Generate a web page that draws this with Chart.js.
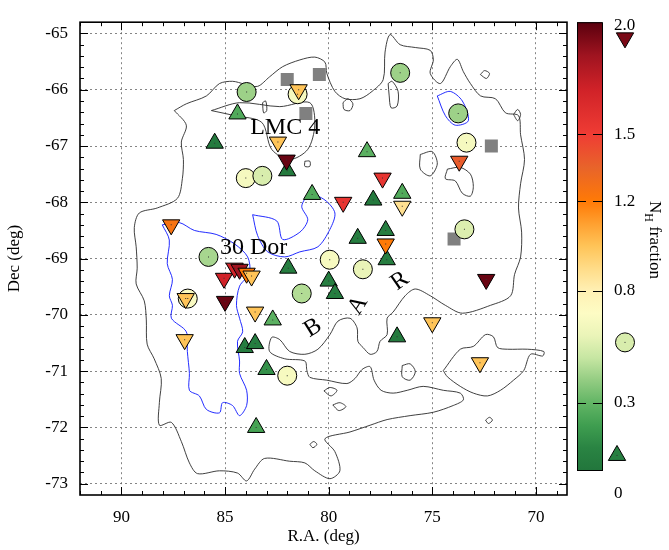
<!DOCTYPE html>
<html>
<head>
<meta charset="utf-8">
<script src="https://cdn.jsdelivr.net/npm/chart.js@4.4.0/dist/chart.umd.min.js"></script>
<style>
	html, body { margin: 0; padding: 0; background: #fff; }
</style>
</head>
<body>
<canvas id="lmcMap" width="669" height="550" style="width:669px;height:550px"></canvas>
<script>
// axis ticks
const xTicks = [90, 85, 80, 75, 70];
const yTicks = [-65, -66, -67, -68, -69, -70, -71, -72, -73];
const cbTicks = [0, 0.3, 0.8, 1.2, 1.5, 2.0];
const cbTickLabels = ["0", "0.3", "0.8", "1.2", "1.5", "2.0"];

// colour map for N_H fraction
const cmapVals = [0, 0.1, 0.2, 0.3, 0.4, 0.5, 0.6, 0.7, 0.8, 0.9, 1.0, 1.1, 1.2, 1.35, 1.5, 1.7, 1.85, 2.0];
const cmapCols = ["#22763c", "#2a8443", "#3f9e50", "#62b565", "#93cc82", "#c6e6a2", "#eaf4b8", "#fdfcc4",
	"#fff0b4", "#ffdc88", "#ffc458", "#ffa030", "#ff7a06", "#e8642a", "#ef3c34", "#d02228", "#a01420", "#5a000e"];

// sources: upward triangles
const upRa = [84.4, 85.5, 82.0, 80.8, 78.15, 77.85, 76.45, 78.6, 77.25, 77.2, 81.95, 80.0, 79.7, 82.7, 84.05, 83.55, 83.0, 83.5, 76.7];
const upDec = [-66.43, -66.95, -67.44, -67.86, -67.1, -67.96, -67.84, -68.64, -68.5, -69.02, -69.17, -69.4, -69.62, -70.09, -70.58, -70.51, -70.97, -72.0, -70.39];
const upFrac = [0.25, 0.03, 0.03, 0.25, 0.28, 0.03, 0.25, 0.05, 0.05, 0.05, 0.05, 0.05, 0.05, 0.28, 0.05, 0.05, 0.15, 0.22, 0.03];

// sources: downward triangles
const downRa = [81.45, 82.45, 82.03, 79.3, 77.4, 73.7, 76.45, 77.25, 87.6, 72.4, 85.05, 84.54, 84.3, 83.96, 83.72, 85.0, 86.9, 83.55, 86.95, 75.0, 72.7];
const downDec = [-66.0, -66.93, -67.25, -68.0, -67.57, -67.27, -68.07, -68.74, -68.4, -69.37, -69.35, -69.17, -69.19, -69.26, -69.31, -69.76, -69.71, -69.95, -70.44, -70.14, -70.85];
const downFrac = [1.0, 1.0, 1.97, 1.55, 1.55, 1.38, 0.88, 1.2, 1.25, 1.97, 1.7, 1.7, 1.85, 1.2, 1.0, 1.97, 1.0, 1.0, 1.0, 1.0, 1.0];

// sources: circles
const circRa = [83.96, 81.5, 84.0, 83.2, 76.55, 73.75, 73.35, 73.45, 85.8, 86.8, 81.3, 79.95, 78.35, 82.0];
const circDec = [-66.04, -66.08, -67.57, -67.53, -65.7, -66.42, -66.94, -68.48, -68.97, -69.71, -69.62, -69.02, -69.19, -71.08];
const circFrac = [0.42, 0.66, 0.66, 0.55, 0.42, 0.42, 0.66, 0.56, 0.44, 0.68, 0.46, 0.67, 0.6, 0.67];

// sources: grey squares
const sqRa = [82.0, 80.45, 81.1, 72.15, 73.95];
const sqDec = [-65.82, -65.73, -66.42, -67.0, -68.65];

// contours [ra, dec]
const outerContour = [[87.45,-66.37],[86.87,-66.25],[85.90,-66.11],[85.27,-65.89],[84.64,-65.85],[84.06,-65.90],[83.43,-65.94],
	[82.85,-65.77],[82.22,-65.59],[81.39,-65.47],[80.67,-65.42],[80.18,-65.51],[80.09,-65.71],[79.70,-66.03],[79.21,-66.16],
	[78.49,-66.16],[77.91,-66.03],[77.37,-65.82],[77.28,-65.33],[77.04,-65.02],[76.55,-65.20],[75.82,-65.25],[75.10,-65.30],
	[74.95,-65.47],[75.10,-65.71],[74.61,-65.89],[74.13,-65.59],[73.79,-65.46],[73.50,-65.68],[73.16,-65.89],[72.67,-66.11],
	[71.95,-66.16],[71.47,-66.41],[70.84,-66.46],[70.74,-66.80],[70.55,-67.24],[70.74,-67.67],[70.84,-68.10],[70.69,-68.53],
	[70.74,-68.97],[71.03,-69.28],[71.22,-69.66],[72.19,-69.83],[73.55,-69.97],[74.37,-69.83],[75.10,-69.66],[75.82,-69.54],
	[76.31,-69.66],[76.89,-69.95],[77.18,-70.06],[77.18,-70.35],[77.52,-70.47],[77.67,-70.65],[78.00,-70.70],[78.34,-70.58],
	[78.59,-70.47],[78.63,-70.23],[78.97,-70.06],[79.55,-70.11],[79.94,-70.35],[80.52,-70.61],[81.15,-70.70],[81.88,-70.65],
	[82.36,-70.44],[82.75,-70.40],[82.85,-70.65],[82.12,-70.78],[81.15,-70.82],[81.05,-70.99],[80.91,-71.11],[80.09,-71.16],
	[79.12,-71.22],[78.73,-71.13],[78.39,-70.97],[78.00,-70.92],[77.81,-71.16],[77.47,-71.34],[76.89,-71.39],[76.21,-71.34],
	[75.44,-71.27],[74.47,-71.34],[73.65,-71.39],[73.50,-71.51],[73.99,-71.61],[74.95,-71.73],[76.07,-71.79],[77.18,-71.86],
	[78.00,-71.96],[78.97,-72.08],[80.18,-72.20],
	[79.70,-72.43],[79.46,-72.77],[79.94,-72.91],[80.67,-72.77],[81.15,-72.63],[81.88,-72.60],[83.09,-72.55],[83.57,-72.74],
	[83.96,-72.95],[84.40,-72.81],[85.27,-72.77],[86.33,-72.82],[86.72,-72.63],[87.11,-72.25],[87.59,-71.91],[88.17,-71.96],
	[88.17,-71.56],[88.08,-71.13],[88.42,-70.78],[88.76,-70.52],[88.80,-70.09],[88.90,-69.75],[89.29,-69.45],[89.24,-69.17],
	[89.29,-68.79],[89.38,-68.45],[89.14,-68.19],[88.27,-68.10],[87.30,-67.93],[87.06,-67.58],[87.01,-67.24],[87.11,-66.93],
	[86.87,-66.63],[87.45,-66.37]];
const lmc4Hole = [[85.66,-66.37],[84.30,-66.23],[82.36,-66.30],[80.91,-66.23],[80.67,-66.63],[81.01,-67.06],[81.88,-67.24],
	[82.75,-67.06],[83.23,-66.58],[84.54,-66.46],[85.66,-66.37]];
const seIsland = [[74.47,-70.99],[73.65,-70.61],[73.02,-70.56],[72.43,-70.35],[72.05,-70.39],[71.85,-70.58],[71.37,-70.61],
	[70.40,-70.61],[69.62,-70.65],[69.67,-70.73],[70.26,-70.70],[70.59,-70.99],[71.08,-71.16],[71.71,-71.34],[72.34,-71.44],
	[73.02,-71.39],[73.65,-71.27],[74.27,-71.10],[74.47,-70.99]];
const smallLoops = [
	[[75.58,-67.15],[75.00,-67.10],[74.76,-67.32],[75.10,-67.53],[75.58,-67.41],[75.58,-67.15]],
	[[74.27,-67.41],[73.65,-67.38],[73.16,-67.50],[73.02,-67.72],[73.16,-67.89],[73.55,-67.84],[73.89,-67.62],[74.37,-67.58],[74.27,-67.41]],
	[[79.31,-66.23],[79.07,-66.16],[78.83,-66.25],[78.97,-66.37],[79.26,-66.35],[79.31,-66.23]],
	[[77.13,-65.89],[76.94,-65.85],[76.65,-66.03],[76.70,-66.29],[76.99,-66.32],[77.08,-66.11],[77.13,-65.89]],
	[[72.68,-65.73],[72.48,-65.66],[72.24,-65.71],[72.39,-65.80],[72.68,-65.73]],
	[[71.08,-66.44],[70.88,-66.35],[70.74,-66.44],[70.88,-66.55],[71.08,-66.44]],
	[[76.45,-70.90],[76.07,-70.87],[75.82,-71.01],[76.07,-71.16],[76.45,-71.10],[76.45,-70.90]],
	[[80.23,-71.35],[79.94,-71.29],[79.60,-71.34],[79.89,-71.44],[80.23,-71.35]],
	[[79.80,-71.60],[79.46,-71.56],[79.17,-71.63],[79.51,-71.70],[79.80,-71.60]],
	[[72.43,-71.87],[72.24,-71.82],[72.10,-71.87],[72.29,-71.93],[72.43,-71.87]],
	[[80.91,-72.30],[80.72,-72.25],[80.57,-72.30],[80.76,-72.36],[80.91,-72.30]],
	[[83.19,-66.23],[83.04,-66.20],[82.99,-66.37],[83.14,-66.41],[83.19,-66.23]],
	[[81.15,-67.27],[80.91,-67.27],[80.91,-67.36],[81.15,-67.36],[81.15,-67.27]],
];
const blueWest = [[88.03,-68.40],[87.69,-68.67],[87.79,-69.09],[87.54,-69.37],[87.69,-69.66],[87.54,-69.83],[87.59,-70.06],
	[86.87,-70.30],[86.82,-70.65],[86.72,-71.04],[86.72,-71.34],[86.24,-71.44],[85.90,-71.68],[85.27,-71.74],[85.12,-71.56],
	[84.64,-71.61],[84.30,-71.79],[83.96,-71.61],[83.96,-71.34],[84.30,-71.04],[84.30,-70.82],[84.40,-70.47],[84.15,-70.30],
	[84.30,-70.06],[84.45,-69.83],[84.30,-69.49],[83.82,-69.26],[83.91,-68.97],[84.54,-68.74],[85.43,-68.57],[86.48,-68.50],
	[87.21,-68.36],[88.03,-68.40]];
const blueMid = [[83.67,-68.22],[82.51,-68.33],[82.22,-68.66],[81.39,-68.53],[81.01,-68.31],[81.30,-68.07],[80.91,-67.86],
	[80.18,-67.96],[79.70,-68.19],[79.94,-68.48],[80.52,-68.79],[81.39,-68.88],[82.12,-68.97],[82.94,-68.88],[83.43,-68.59],
	[83.67,-68.22]];
const blueNorth = [[74.76,-66.11],[74.13,-66.03],[73.55,-66.20],[73.26,-66.55],[73.89,-66.63],[74.37,-66.46],[74.76,-66.11]];

// region labels
const labelText = ["LMC 4", "30 Dor", "B", "A", "R"];
const labelRa = [82.1, 83.62, 80.76, 78.59, 76.56];
const labelDec = [-66.67, -68.81, -70.23, -69.83, -69.4];
const labelRot = [0, 0, -32, -58, -35];

// legend markers beside the colour bar
const cbMarkStyle = ["down", "circle", "up"];
const cbMarkVal = [1.93, 0.57, 0.065];

const SERIF = "'Liberation Serif', 'Times New Roman', serif";
const LINE_BLACK = "#2a2a2a";
const LINE_BLUE = "#0a14ff";

function hexRgb(h) {
	return [parseInt(h.slice(1, 3), 16), parseInt(h.slice(3, 5), 16), parseInt(h.slice(5, 7), 16)];
}

function fracColor(v) {
	if (v <= cmapVals[0]) return cmapCols[0];
	for (let i = 1; i < cmapVals.length; i++) {
		if (v <= cmapVals[i]) {
			const t = (v - cmapVals[i - 1]) / (cmapVals[i] - cmapVals[i - 1]);
			const a = hexRgb(cmapCols[i - 1]);
			const b = hexRgb(cmapCols[i]);
			const c = a.map((x, k) => Math.round(x + (b[k] - x) * t));
			return "rgb(" + c.join(",") + ")";
		}
	}
	return cmapCols[cmapCols.length - 1];
}

function toPoints(ra, dec) {
	return ra.map((r, i) => ({ x: r, y: dec[i] }));
}

function contourSet(pairs, color) {
	return {
		data: pairs.map((p) => ({ x: p[0], y: p[1] })),
		showLine: true,
		borderColor: color,
		borderWidth: 0.9,
		pointRadius: 0,
		tension: 0.3,
		fill: false,
		order: 10,
	};
}

function drawMarker(ctx, style, x, y, r) {
	ctx.beginPath();
	if (style === "circle") {
		ctx.arc(x, y, r, 0, Math.PI * 2);
	} else {
		const s = style === "down" ? -1 : 1;
		for (let k = 0; k < 3; k++) {
			const a = (k * 2 * Math.PI) / 3;
			const px = x + Math.sin(a) * r;
			const py = y - s * Math.cos(a) * r;
			if (k === 0) ctx.moveTo(px, py);
			else ctx.lineTo(px, py);
		}
		ctx.closePath();
	}
	ctx.fill();
	ctx.stroke();
	ctx.fillStyle = "#333";
	ctx.fillRect(x - 0.5, y - 0.5, 1, 1);
}

const framePlugin = {
	id: "frame",
	afterDraw(chart) {
		const { ctx, chartArea: a, scales } = chart;
		const xs = scales.x;
		const ys = scales.y;
		ctx.save();
		ctx.strokeStyle = "#000";
		ctx.lineWidth = 1;
		ctx.beginPath();
		for (let v = 69; v <= 92; v++) {
			const px = Math.round(xs.getPixelForValue(v)) + 0.5;
			const len = v % 5 === 0 ? 8 : 4;
			ctx.moveTo(px, a.bottom);
			ctx.lineTo(px, a.bottom - len);
			ctx.moveTo(px, a.top);
			ctx.lineTo(px, a.top + len);
		}
		for (let i = -365; i <= -325; i++) {
			const py = Math.round(ys.getPixelForValue(i * 0.2)) + 0.5;
			const len = i % 5 === 0 ? 8 : 4;
			ctx.moveTo(a.left, py);
			ctx.lineTo(a.left + len, py);
			ctx.moveTo(a.right, py);
			ctx.lineTo(a.right - len, py);
		}
		ctx.stroke();
		ctx.lineWidth = 1.6;
		ctx.strokeRect(a.left, a.top, a.right - a.left, a.bottom - a.top);

		// axis titles
		ctx.fillStyle = "#000";
		ctx.font = "17px " + SERIF;
		ctx.textAlign = "center";
		ctx.textBaseline = "middle";
		ctx.fillText("R.A. (deg)", (a.left + a.right) / 2, 537);
		ctx.save();
		ctx.translate(15, (a.top + a.bottom) / 2);
		ctx.rotate(-Math.PI / 2);
		ctx.fillText("Dec (deg)", 0, 0);
		ctx.restore();

		// colour bar
		const cbL = a.right + 10;
		const cbR = a.right + 35;
		const cbT = a.top;
		const cbB = 470;
		const cbPix = (v) => cbB - (v / 2.0) * (cbB - cbT);
		const grad = ctx.createLinearGradient(0, cbB, 0, cbT);
		cmapVals.forEach((v, i) => grad.addColorStop(v / 2.0, cmapCols[i]));
		ctx.fillStyle = grad;
		ctx.fillRect(cbL, cbT, cbR - cbL, cbB - cbT);
		ctx.lineWidth = 1;
		ctx.strokeStyle = "#000";
		ctx.strokeRect(cbL + 0.5, cbT + 0.5, cbR - cbL, cbB - cbT);
		ctx.beginPath();
		cbTicks.forEach((v) => {
			if (v === 0 || v === 2.0) return;
			const py = Math.round(cbPix(v)) + 0.5;
			ctx.moveTo(cbL, py);
			ctx.lineTo(cbL + 9, py);
			ctx.moveTo(cbR, py);
			ctx.lineTo(cbR - 9, py);
		});
		ctx.stroke();
		ctx.fillStyle = "#000";
		ctx.textAlign = "left";
		ctx.font = "17px " + SERIF;
		cbTicks.forEach((v, i) => {
			let py = cbPix(v);
			if (v === 0) py += 24;
			if (v === 2.0) py += 3;
			ctx.fillText(cbTickLabels[i], cbR + 12, py);
		});
		cbMarkStyle.forEach((s, i) => {
			ctx.fillStyle = fracColor(s === "circle" ? 0.55 : cbMarkVal[i]);
			ctx.strokeStyle = "#000";
			ctx.lineWidth = 1;
			drawMarker(ctx, s, s === "up" ? cbR + 15 : cbR + 23, cbPix(cbMarkVal[i]), s === "circle" ? 9.5 : 10);
		});

		// colour bar title: N_H fraction, reading downwards
		ctx.save();
		ctx.translate(650, 240);
		ctx.rotate(Math.PI / 2);
		ctx.fillStyle = "#000";
		ctx.textBaseline = "alphabetic";
		ctx.font = "17px " + SERIF;
		const wN = ctx.measureText("N").width;
		const wRest = ctx.measureText(" fraction").width;
		ctx.font = "12px " + SERIF;
		const wH = ctx.measureText("H").width;
		const x0 = -(wN + wH + wRest) / 2;
		ctx.font = "17px " + SERIF;
		ctx.fillText("N", x0, 0);
		ctx.fillText(" fraction", x0 + wN + wH, 0);
		ctx.font = "12px " + SERIF;
		ctx.fillText("H", x0 + wN, 5);
		ctx.restore();
		ctx.restore();
	},
	afterDatasetsDraw(chart) {
		const { ctx, scales } = chart;
		ctx.save();
		ctx.fillStyle = "#000";
		ctx.font = "24px " + SERIF;
		ctx.textAlign = "center";
		ctx.textBaseline = "middle";
		labelText.forEach((t, i) => {
			ctx.save();
			ctx.translate(scales.x.getPixelForValue(labelRa[i]), scales.y.getPixelForValue(labelDec[i]));
			ctx.rotate((labelRot[i] * Math.PI) / 180);
			ctx.fillText(t, 0, 0);
			ctx.restore();
		});
		ctx.restore();
	},
};

const allRa = [].concat(downRa, upRa, circRa);
const allDec = [].concat(downDec, upDec, circDec);

const ctxMap = document.getElementById("lmcMap").getContext("2d");

new Chart(ctxMap, {
	type: "scatter",
	data: {
		datasets: [
			{
				// small centre dots on the symbols
				data: toPoints(allRa, allDec),
				pointStyle: "rect",
				pointRadius: 0.7,
				pointBackgroundColor: "#333",
				pointBorderWidth: 0,
				order: 0,
			},
			{
				data: toPoints(downRa, downDec),
				pointStyle: "triangle",
				pointRotation: 180,
				pointRadius: 10,
				pointBackgroundColor: downFrac.map(fracColor),
				pointBorderColor: "#000",
				pointBorderWidth: 1,
				order: 1,
			},
			{
				data: toPoints(upRa, upDec),
				pointStyle: "triangle",
				pointRadius: 10,
				pointBackgroundColor: upFrac.map(fracColor),
				pointBorderColor: "#000",
				pointBorderWidth: 1,
				order: 2,
			},
			{
				data: toPoints(circRa, circDec),
				pointStyle: "circle",
				pointRadius: 9.5,
				pointBackgroundColor: circFrac.map(fracColor),
				pointBorderColor: "#000",
				pointBorderWidth: 1,
				order: 3,
			},
			{
				data: toPoints(sqRa, sqDec),
				pointStyle: "rect",
				pointRadius: 9.2,
				pointBackgroundColor: "#808080",
				pointBorderWidth: 0,
				order: 4,
			},
			contourSet(outerContour, LINE_BLACK),
			contourSet(lmc4Hole, LINE_BLACK),
			contourSet(seIsland, LINE_BLACK),
			...smallLoops.map((loop) => contourSet(loop, LINE_BLACK)),
			contourSet(blueWest, LINE_BLUE),
			contourSet(blueMid, LINE_BLUE),
			contourSet(blueNorth, LINE_BLUE),
		],
	},
	options: {
		responsive: false,
		animation: false,
		events: [],
		layout: {
			padding: { top: 9, right: 102, left: 0, bottom: 0 },
		},
		scales: {
			x: {
				type: "linear",
				reverse: true,
				min: 68.5,
				max: 92,
				afterBuildTicks: (scale) => {
					scale.ticks = xTicks.map((v) => ({ value: v }));
				},
				afterFit: (scale) => {
					scale.height = 55;
				},
				ticks: {
					color: "#000",
					padding: 12,
					font: { family: SERIF, size: 17 },
					maxRotation: 0,
				},
				grid: {
					color: "#666",
					lineWidth: 0.8,
					drawTicks: false,
				},
				border: { display: false, dash: [2, 3] },
			},
			y: {
				type: "linear",
				min: -73.2,
				max: -64.8,
				afterBuildTicks: (scale) => {
					scale.ticks = yTicks.map((v) => ({ value: v }));
				},
				afterFit: (scale) => {
					scale.width = 80;
				},
				ticks: {
					color: "#000",
					padding: 12,
					font: { family: SERIF, size: 17 },
				},
				grid: {
					color: "#666",
					lineWidth: 0.8,
					drawTicks: false,
				},
				border: { display: false, dash: [2, 3] },
			},
		},
		plugins: {
			legend: { display: false },
			tooltip: { enabled: false },
		},
	},
	plugins: [framePlugin],
});
</script>
</body>
</html>
